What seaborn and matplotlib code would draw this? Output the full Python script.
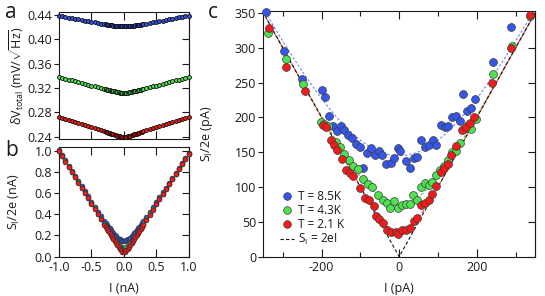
import matplotlib
matplotlib.use("Agg")
import matplotlib.pyplot as plt
from matplotlib.lines import Line2D
import seaborn as sns

# ---------------- data ----------------
# panel a / b : current sweep (nA)
I_NA = [-1.0, -0.95, -0.9, -0.85, -0.8, -0.75, -0.7, -0.65, -0.6, -0.55, -0.5, -0.45, -0.4, -0.35,
        -0.3, -0.28, -0.26, -0.24, -0.22, -0.2, -0.18, -0.16, -0.14, -0.12, -0.1, -0.08, -0.06, -0.04, -0.02,
        0.0,
        0.02, 0.04, 0.06, 0.08, 0.1, 0.12, 0.14, 0.16, 0.18, 0.2, 0.22, 0.24, 0.26, 0.28, 0.3,
        0.35, 0.4, 0.45, 0.5, 0.55, 0.6, 0.65, 0.7, 0.75, 0.8, 0.85, 0.9, 0.95, 1.0]

DV_85K = [0.4380, 0.4370, 0.4360, 0.4350, 0.4340, 0.4330, 0.4320, 0.4310, 0.4300, 0.4290, 0.4281, 0.4271, 0.4261, 0.4252,
          0.4243, 0.4239, 0.4236, 0.4232, 0.4229, 0.4225, 0.4222, 0.4219, 0.4216, 0.4214, 0.4211, 0.4209, 0.4207, 0.4206, 0.4205,
          0.4205,
          0.4205, 0.4206, 0.4207, 0.4209, 0.4211, 0.4214, 0.4216, 0.4219, 0.4222, 0.4225, 0.4229, 0.4232, 0.4236, 0.4239, 0.4243,
          0.4252, 0.4262, 0.4272, 0.4282, 0.4292, 0.4302, 0.4312, 0.4322, 0.4332, 0.4342, 0.4352, 0.4362, 0.4372, 0.4383]
DV_43K = [0.3380, 0.3366, 0.3352, 0.3338, 0.3324, 0.3310, 0.3296, 0.3282, 0.3268, 0.3254, 0.3240, 0.3226, 0.3212, 0.3199,
          0.3185, 0.3179, 0.3174, 0.3169, 0.3163, 0.3158, 0.3153, 0.3148, 0.3143, 0.3138, 0.3134, 0.3129, 0.3126, 0.3123, 0.3121,
          0.3120,
          0.3121, 0.3123, 0.3126, 0.3129, 0.3134, 0.3138, 0.3143, 0.3148, 0.3153, 0.3158, 0.3163, 0.3169, 0.3174, 0.3179, 0.3185,
          0.3199, 0.3212, 0.3226, 0.3240, 0.3254, 0.3268, 0.3282, 0.3296, 0.3310, 0.3324, 0.3338, 0.3352, 0.3366, 0.3381]
DV_21K = [0.2730, 0.2713, 0.2696, 0.2679, 0.2661, 0.2644, 0.2627, 0.2610, 0.2593, 0.2576, 0.2559, 0.2541, 0.2524, 0.2507,
          0.2490, 0.2483, 0.2477, 0.2470, 0.2463, 0.2456, 0.2450, 0.2443, 0.2436, 0.2430, 0.2423, 0.2417, 0.2411, 0.2406, 0.2402,
          0.2400,
          0.2402, 0.2406, 0.2411, 0.2417, 0.2423, 0.2430, 0.2436, 0.2443, 0.2450, 0.2456, 0.2463, 0.2470, 0.2477, 0.2483, 0.2490,
          0.2507, 0.2524, 0.2541, 0.2559, 0.2576, 0.2593, 0.2610, 0.2627, 0.2644, 0.2661, 0.2679, 0.2696, 0.2713, 0.2731]

SN_85K = [1.011, 0.962, 0.912, 0.863, 0.814, 0.765, 0.716, 0.667, 0.619, 0.570, 0.522, 0.474, 0.427, 0.381,
          0.335, 0.318, 0.300, 0.283, 0.266, 0.250, 0.234, 0.219, 0.205, 0.192, 0.180, 0.170, 0.162, 0.155, 0.151,
          0.150,
          0.151, 0.155, 0.162, 0.170, 0.180, 0.192, 0.205, 0.219, 0.234, 0.250, 0.266, 0.283, 0.300, 0.318, 0.335,
          0.377, 0.422, 0.468, 0.514, 0.561, 0.608, 0.654, 0.701, 0.748, 0.794, 0.841, 0.887, 0.935, 0.981]
SN_43K = [1.003, 0.953, 0.904, 0.854, 0.804, 0.754, 0.705, 0.655, 0.605, 0.556, 0.506, 0.457, 0.408, 0.359,
          0.311, 0.291, 0.272, 0.253, 0.234, 0.215, 0.197, 0.179, 0.161, 0.144, 0.128, 0.113, 0.100, 0.089, 0.082,
          0.080,
          0.082, 0.089, 0.100, 0.113, 0.128, 0.144, 0.161, 0.179, 0.197, 0.215, 0.234, 0.253, 0.272, 0.291, 0.311,
          0.355, 0.403, 0.451, 0.498, 0.547, 0.594, 0.642, 0.690, 0.737, 0.785, 0.832, 0.880, 0.926, 0.973]
SN_21K = [1.001, 0.951, 0.901, 0.851, 0.801, 0.751, 0.701, 0.651, 0.601, 0.552, 0.502, 0.452, 0.402, 0.352,
          0.303, 0.283, 0.263, 0.243, 0.224, 0.204, 0.184, 0.165, 0.146, 0.127, 0.108, 0.089, 0.072, 0.057, 0.045,
          0.040,
          0.045, 0.057, 0.072, 0.089, 0.108, 0.127, 0.146, 0.165, 0.184, 0.204, 0.224, 0.243, 0.263, 0.283, 0.303,
          0.348, 0.397, 0.446, 0.494, 0.543, 0.590, 0.638, 0.686, 0.734, 0.782, 0.829, 0.877, 0.924, 0.971]

# panel c : shot noise (pA)
C_I_85K = [-342, -297, -250, -199, -191, -181, -171, -161, -151, -141, -131, -121, -111, -101, -93, -84, -72, -62, -52, -44,
           -33, -21, -14, -3, 3, 18, 27, 37, 46, 57, 67, 77, 87, 96, 107, 117, 127, 136, 146, 156, 165, 175, 186, 195, 241, 288]
C_S_85K = [351, 296, 256, 239, 230, 202, 188, 180, 188, 182, 175, 171, 162, 157, 127, 149, 156, 146, 152, 146,
           133, 135, 142, 156, 152, 138, 128, 142, 143, 167, 157, 160, 167, 160, 189, 187, 188, 200, 202, 195, 234, 210, 214, 227, 280, 330]
C_I_43K = [-338, -291, -247, -201, -193, -184, -163, -152, -143, -130, -120, -107, -94, -81, -71, -54, -41, -32, -24, -13,
           -3, 6, 17, 28, 36, 47, 57, 66, 76, 85, 96, 104, 115, 126, 136, 146, 156, 167, 177, 186, 197, 243, 290, 336]
C_S_43K = [322, 284, 248, 194, 191, 188, 165, 157, 148, 139, 130, 126, 111, 105, 100, 89, 81, 77, 70, 80,
           70, 74, 75, 75, 88, 82, 100, 106, 103, 108, 118, 125, 130, 139, 151, 152, 163, 184, 189, 184, 198, 263, 302, 346]
C_I_21K = [-336, -291, -243, -197, -188, -177, -169, -160, -147, -138, -128, -118, -102, -89, -78, -66, -59, -51, -42, -32,
           -20, -9, -3, 8, 18, 27, 37, 46, 57, 67, 77, 85, 96, 107, 115, 126, 134, 147, 161, 171, 182, 192, 240, 288, 336]
C_S_21K = [329, 272, 238, 189, 187, 168, 161, 154, 140, 125, 120, 116, 99, 85, 81, 73, 58, 54, 49, 38,
           36, 35, 33, 38, 39, 41, 51, 55, 74, 77, 82, 90, 102, 122, 128, 133, 146, 159, 182, 187, 192, 200, 250, 300, 347]

# fit curves
FIT_I = [-340, -300, -270, -240, -210, -180, -150, -120, -100, -80, -60, -40, -20, 0,
         20, 40, 60, 80, 100, 120, 150, 180, 210, 240, 270, 300, 340]
FIT_85K = [346.3, 309.7, 283.4, 258.2, 234.5, 212.8, 193.4, 176.7, 167.3, 159.4, 153.1, 148.6, 145.9, 145.0,
           145.9, 148.6, 153.1, 159.4, 167.3, 176.7, 193.4, 212.8, 234.5, 258.2, 283.4, 309.7, 346.3]
FIT_43K = [340.0, 300.2, 270.4, 240.8, 211.6, 183.0, 155.6, 130.2, 114.9, 101.5, 90.4, 82.0, 76.8, 75.0,
           76.8, 82.0, 90.4, 101.5, 114.9, 130.2, 155.6, 183.0, 211.6, 240.8, 270.4, 300.2, 340.0]
FIT_21K = [340.0, 300.0, 270.0, 240.0, 210.0, 180.0, 150.0, 120.2, 100.7, 81.7, 64.0, 49.1, 38.7, 35.0,
           38.7, 49.1, 64.0, 81.7, 100.7, 120.2, 150.0, 180.0, 210.0, 240.0, 270.0, 300.0, 340.0]
SCHOTTKY_I = [-345, 0, 350]
SCHOTTKY_S = [345, 0, 350]

LABELS = ["T = 8.5K", "T = 4.3K", "T = 2.1 K"]
LINE_LABEL = r"S$_\mathrm{I}$ = 2eI"

BLUE, GREEN, RED = "#3556ea", "#4fe24f", "#f21a1a"

# ---------------- style ----------------
sns.set_theme(style="ticks")
plt.rcParams.update({
    "font.family": ["Open Sans", "DejaVu Sans"],
    "mathtext.fontset": "custom",
    "mathtext.rm": "Open Sans",
    "mathtext.it": "Open Sans:italic",
    "mathtext.bf": "Open Sans:bold",
    "axes.unicode_minus": False,
    "axes.linewidth": 0.8,
    "axes.edgecolor": "#1a1a1a",
    "xtick.color": "#1a1a1a",
    "ytick.color": "#1a1a1a",
    "text.color": "#1a1a1a",
    "axes.labelcolor": "#1a1a1a",
})

W, H = 545, 296
fig = plt.figure(figsize=(W / 100, H / 100), dpi=100)


def px_axes(x0, y0, x1, y1):
    return fig.add_axes([x0 / W, 1 - y1 / H, (x1 - x0) / W, (y1 - y0) / H])


ax_a = px_axes(59, 12.5, 188.5, 139)
ax_b = px_axes(59, 147, 188.5, 256.5)
ax_c = px_axes(263, 11, 535, 256.7)

FS = 9


def style(ax, yticks, ylim, xlim, labelbottom=True):
    ax.set_xlim(*xlim)
    ax.set_ylim(*ylim)
    ax.set_yticks(yticks)
    ax.tick_params(axis="x", which="both", direction="in", top=True, bottom=True,
                   labelbottom=labelbottom, labelsize=FS, pad=3, width=0.8)
    ax.tick_params(axis="x", which="major", length=6)
    ax.tick_params(axis="x", which="minor", length=3.5)
    ax.tick_params(axis="y", which="both", direction="out", left=True, right=False,
                   labelsize=FS, length=3.5, pad=1.5, width=0.8)
    sec = ax.secondary_yaxis("right")
    sec.set_yticks(yticks)
    sec.tick_params(axis="y", direction="in", length=5, width=0.8, labelright=False)
    for sp in ax.spines.values():
        sp.set_visible(True)


# ---------------- panel a ----------------
for vals, col in [(DV_85K, BLUE), (DV_43K, GREEN), (DV_21K, RED)]:
    sns.scatterplot(x=I_NA, y=vals, ax=ax_a, color=col, s=8, edgecolor="#0a0a0a",
                    linewidth=0.6, legend=False, clip_on=False, zorder=3)
style(ax_a, [0.24, 0.28, 0.32, 0.36, 0.40, 0.44], (0.2367, 0.4433), (-1.0, 1.0), labelbottom=False)
ax_a.set_xticks([-1.0, -0.5, 0.0, 0.5, 1.0])
ax_a.set_yticklabels(["0.24", "0.28", "0.32", "0.36", "0.40", "0.44"])
ax_a.set_xlabel("")
ax_a.set_ylabel(r"$\mathrm{\delta V}_{\mathrm{total}}$ (mV/$\sqrt{\mathrm{Hz}}$)", fontsize=FS)
ax_a.yaxis.set_label_coords(-0.255, 0.5)

# ---------------- panel b ----------------
for vals, col in [(SN_85K, BLUE), (SN_43K, GREEN), (SN_21K, RED)]:
    sns.scatterplot(x=I_NA, y=vals, ax=ax_b, color=col, s=12, edgecolor="#2a2a2a",
                    linewidth=0.45, legend=False, clip_on=False, zorder=3)
style(ax_b, [0.0, 0.2, 0.4, 0.6, 0.8, 1.0], (0.0, 1.04), (-1.0, 1.0))
ax_b.set_xticks([-1.0, -0.5, 0.0, 0.5, 1.0])
ax_b.set_xticklabels(["-1.0", "-0.5", "0.0", "0.5", "1.0"])
ax_b.set_yticklabels(["0.0", "0.2", "0.4", "0.6", "0.8", "1.0"])
ax_b.set_xlabel("I (nA)", fontsize=FS)
ax_b.set_ylabel(r"S$_\mathrm{I}$/2e (nA)", fontsize=FS)
ax_b.yaxis.set_label_coords(-0.285, 0.5)
ax_b.xaxis.set_label_coords(0.5, -0.235)

# ---------------- panel c ----------------
for vals, col, ls in [(FIT_85K, "#6a82ff", (0, (2.2, 1.8))), (FIT_43K, "#4ed84e", (0, (3, 2))),
                      (FIT_21K, "#ff3a3a", (0, (3, 2)))]:
    sns.lineplot(x=FIT_I, y=vals, ax=ax_c, color=col, linewidth=0.8, linestyle=ls,
                 sort=False, estimator=None, legend=False, zorder=1)
sns.lineplot(x=SCHOTTKY_I, y=SCHOTTKY_S, ax=ax_c, color="#111111", linewidth=0.8,
             linestyle=(0, (3, 2)), sort=False, estimator=None, legend=False, zorder=2)
for xs, ys, col in [(C_I_85K, C_S_85K, BLUE), (C_I_43K, C_S_43K, GREEN), (C_I_21K, C_S_21K, RED)]:
    sns.scatterplot(x=xs, y=ys, ax=ax_c, color=col, s=32, edgecolor="#3a3a3a",
                    linewidth=0.5, legend=False, clip_on=False, zorder=3)
style(ax_c, [0, 50, 100, 150, 200, 250, 300, 350], (0, 353), (-351, 350))
ax_c.set_xticks([-200, 0, 200])
ax_c.set_xticks([-300, -100, 100, 300], minor=True)
ax_c.set_xticklabels(["-200", "0", "200"])
ax_c.set_xlabel("I (pA)", fontsize=FS)
ax_c.set_ylabel(r"S$_\mathrm{I}$/2e (pA)", fontsize=FS)
ax_c.yaxis.set_label_coords(-0.175, 0.5)
ax_c.xaxis.set_label_coords(0.5, -0.103)

handles = [Line2D([], [], linestyle="none", marker="o", markersize=5.5, markerfacecolor=c,
                  markeredgecolor="#3a3a3a", markeredgewidth=0.5) for c in (BLUE, GREEN, RED)]
handles.append(Line2D([], [], color="#111111", linewidth=0.8, linestyle=(0, (3, 2))))
ax_c.legend(handles, LABELS + [LINE_LABEL], loc="upper left", bbox_to_anchor=(0.062, 0.272),
            frameon=False, fontsize=8.5, handlelength=1.2, handletextpad=0.3,
            labelspacing=0.08, borderpad=0, borderaxespad=0)

# ---------------- panel letters ----------------
fig.text(5 / W, 1 - 12 / H, "a", fontsize=15, va="center", ha="left")
fig.text(5 / W, 1 - 150 / H, "b", fontsize=15, va="center", ha="left")
fig.text(208 / W, 1 - 12 / H, "c", fontsize=15, va="center", ha="left")

fig.savefig("out.png", dpi=100)
